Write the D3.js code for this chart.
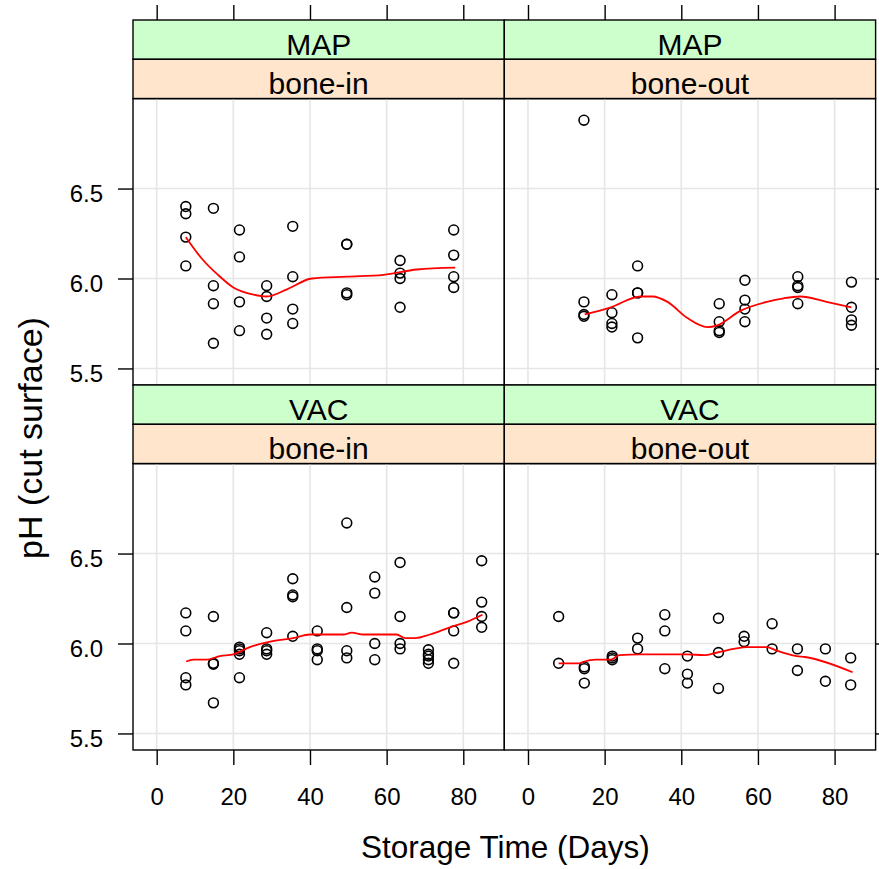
<!DOCTYPE html>
<html>
<head>
<meta charset="utf-8">
<script src="https://cdn.jsdelivr.net/npm/d3@7"></script>
<style>
  html, body { margin: 0; padding: 0; background: #fff; }
  svg { display: block; font-family: "Liberation Sans", Arial, sans-serif; }
</style>
</head>
<body>
<svg id="chart" width="879" height="869"></svg>
<script>
// ---------- data ----------
const packaging = ["MAP", "VAC"];
const cuts = ["bone-in", "bone-out"];
const xTicks = [0, 20, 40, 60, 80];
const yTicks = [5.5, 6.0, 6.5];

// MAP / bone-in
const mapInDays = [7.6,7.6,7.6,7.6, 14.8,14.8,14.8,14.8, 21.6,21.6,21.6,21.6, 28.7,28.7,28.7,28.7,
                   35.5,35.5,35.5,35.5, 49.6,49.6,49.6,49.6, 63.5,63.5,63.5,63.5, 77.5,77.5,77.5,77.5];
const mapInPH   = [6.40,6.36,6.23,6.07, 6.39,5.96,5.86,5.64, 6.27,6.12,5.87,5.71, 5.96,5.90,5.78,5.69,
                   6.29,6.01,5.83,5.75, 6.19,6.19,5.91,5.92, 6.10,6.03,6.00,5.84, 6.27,6.13,6.01,5.95];
const mapInFitDays = [7.6, 11.8, 16, 20, 25.3, 28.7, 34, 40.5, 49.6, 59.2, 67.9, 77.9];
const mapInFitPH   = [6.23, 6.11, 6.02, 5.95, 5.91, 5.90, 5.94, 6.00, 6.01, 6.02, 6.05, 6.06];

// MAP / bone-out
const mapOutDays = [14.6,14.6,14.6,14.6, 21.9,21.9,21.9,21.9, 28.6,28.6,28.6,28.6, 49.9,49.9,49.9,49.9,
                    56.6,56.6,56.6,56.6, 70.4,70.4,70.4,70.4, 84.4,84.4,84.4,84.4];
const mapOutPH   = [6.88,5.87,5.80,5.79, 5.91,5.81,5.75,5.73, 6.07,5.92,5.92,5.67, 5.86,5.76,5.71,5.70,
                    5.99,5.88,5.83,5.76, 6.01,5.96,5.95,5.86, 5.98,5.84,5.77,5.74];
const mapOutFitDays = [14.8, 21.6, 29.4, 32.5, 36.4, 41.6, 46.8, 49.4, 55.4, 62.3, 66.7, 71, 77.9, 84.4];
const mapOutFitPH   = [5.80, 5.84, 5.90, 5.90, 5.87, 5.78, 5.73, 5.74, 5.82, 5.87, 5.89, 5.90, 5.87, 5.84];

// VAC / bone-in
const vacInDays = [7.6,7.6,7.6,7.6, 14.8,14.8,14.8,14.8, 21.6,21.6,21.6,21.6,21.6, 28.7,28.7,28.7,28.7,
                   35.5,35.5,35.5,35.5, 41.9,41.9,41.9,41.9, 49.6,49.6,49.6,49.6, 56.9,56.9,56.9,56.9,
                   63.5,63.5,63.5,63.5, 70.9,70.9,70.9,70.9,70.9, 77.5,77.5,77.5,77.5, 84.8,84.8,84.8,84.8];
const vacInPH   = [6.17,6.07,5.81,5.77, 6.15,5.89,5.885,5.67, 5.98,5.97,5.96,5.94,5.81, 6.06,5.97,5.96,5.94,
                   6.36,6.27,6.26,6.04, 6.07,5.97,5.96,5.91, 6.67,6.20,5.96,5.92, 6.37,6.28,6.00,5.91,
                   6.45,6.15,6.00,5.97, 5.965,5.94,5.93,5.91,5.89, 6.17,6.17,6.07,5.89, 6.46,6.23,6.15,6.09];
const vacInFitDays = [7.7, 9.6, 13, 16.5, 20, 24.3, 29.6, 35.6, 40, 48.7, 50.9, 53.9, 62.6, 64.8, 67.4, 71.3, 76.5, 80.9, 85];
const vacInFitPH   = [5.90, 5.91, 5.91, 5.93, 5.94, 5.98, 6.01, 6.03, 6.05, 6.05, 6.06, 6.05, 6.05, 6.03, 6.03, 6.05, 6.09, 6.12, 6.16];

// VAC / bone-out
const vacOutDays = [8.0,8.0, 14.7,14.7,14.7, 22.0,22.0,22.0, 28.6,28.6, 35.7,35.7,35.7, 41.6,41.6,41.6,
                    49.7,49.7,49.7, 56.4,56.4, 63.7,63.7, 70.3,70.3, 77.6,77.6, 84.2,84.2];
const vacOutPH   = [6.15,5.89, 5.87,5.86,5.78, 5.93,5.92,5.91, 6.03,5.97, 6.16,6.07,5.86, 5.93,5.83,5.78,
                    6.14,5.95,5.75, 6.04,6.01, 6.11,5.97, 5.97,5.85, 5.97,5.79, 5.92,5.77];
const vacOutFitDays = [8, 13.4, 14.7, 17.7, 21.6, 23.8, 29.4, 41.6, 45.9, 49.4, 53.7, 57.1, 62.3, 64.9, 70.1, 72.3, 84.7];
const vacOutFitPH   = [5.89, 5.89, 5.90, 5.91, 5.91, 5.935, 5.94, 5.94, 5.935, 5.95, 5.97, 5.98, 5.98, 5.96, 5.93, 5.925, 5.84];

// ---------- layout ----------
const svg = d3.select("#chart");
const left0 = 133, panelW = 371.3;
const top0 = 20, stripH = 39.3, rowH = 365;
const panelH = rowH - 2 * stripH;

const x = d3.scaleLinear().domain([-6.18, 90.7]).range([0, panelW]);
const y = d3.scaleLinear().domain([5.408, 7.0]).range([panelH, 0]);

const panels = [
  {row: 0, col: 0, pack: packaging[0], cut: cuts[0], xs: mapInDays, ys: mapInPH, fx: mapInFitDays, fy: mapInFitPH},
  {row: 0, col: 1, pack: packaging[0], cut: cuts[1], xs: mapOutDays, ys: mapOutPH, fx: mapOutFitDays, fy: mapOutFitPH},
  {row: 1, col: 0, pack: packaging[1], cut: cuts[0], xs: vacInDays, ys: vacInPH, fx: vacInFitDays, fy: vacInFitPH},
  {row: 1, col: 1, pack: packaging[1], cut: cuts[1], xs: vacOutDays, ys: vacOutPH, fx: vacOutFitDays, fy: vacOutFitPH}
];

const line = d3.line().curve(d3.curveMonotoneX).x(d => x(d[0])).y(d => y(d[1]));

panels.forEach(p => {
  const gx = left0 + p.col * panelW;
  const gy = top0 + p.row * rowH;
  const g = svg.append("g").attr("transform", `translate(${gx},${gy})`);

  // strips
  const strips = [{label: p.pack, fill: "#CCFFCC"}, {label: p.cut, fill: "#FFE5CC"}];
  strips.forEach((s, i) => {
    g.append("rect").attr("x", 0).attr("y", i * stripH).attr("width", panelW).attr("height", stripH)
      .attr("fill", s.fill).attr("stroke", "#000").attr("stroke-width", 1.4);
    g.append("text").attr("x", panelW / 2).attr("y", (i + 1) * stripH - 4.5)
      .attr("text-anchor", "middle").attr("font-size", 30).attr("fill", "#000").text(s.label);
  });

  const pg = g.append("g").attr("transform", `translate(0,${2 * stripH})`);
  // grid
  pg.selectAll("line.gx").data(xTicks).join("line")
    .attr("x1", d => x(d)).attr("x2", d => x(d)).attr("y1", 0).attr("y2", panelH)
    .attr("stroke", "#E6E6E6").attr("stroke-width", 1.6);
  pg.selectAll("line.gy").data(yTicks).join("line")
    .attr("x1", 0).attr("x2", panelW).attr("y1", d => y(d)).attr("y2", d => y(d))
    .attr("stroke", "#E6E6E6").attr("stroke-width", 1.6);

  // points
  const pts = p.xs.map((d, i) => [d, p.ys[i]]);
  pg.selectAll("circle").data(pts).join("circle")
    .attr("cx", d => x(d[0])).attr("cy", d => y(d[1])).attr("r", 4.9)
    .attr("fill", "none").attr("stroke", "#000").attr("stroke-width", 1.6);

  // smoother
  const fit = p.fx.map((d, i) => [d, p.fy[i]]);
  pg.append("path").datum(fit).attr("d", line)
    .attr("fill", "none").attr("stroke", "#FF0000").attr("stroke-width", 1.8);

  // border
  pg.append("rect").attr("width", panelW).attr("height", panelH)
    .attr("fill", "none").attr("stroke", "#000").attr("stroke-width", 1.4);

  // axes
  if (p.col === 0) {
    const ax = pg.append("g").call(d3.axisLeft(y).tickValues(yTicks).tickSize(15).tickPadding(15)
      .tickFormat(d3.format(".1f")));
    ax.select(".domain").remove();
    ax.selectAll("text").attr("font-size", 24).attr("font-family", "Liberation Sans, Arial, sans-serif").attr("dy", "0.55em");
    ax.selectAll("line").attr("stroke-width", 1.4);
  } else {
    const ax = pg.append("g").attr("transform", `translate(${panelW},0)`)
      .call(d3.axisRight(y).tickValues(yTicks).tickSize(15).tickFormat(""));
    ax.select(".domain").remove();
    ax.selectAll("line").attr("stroke-width", 1.4);
  }
  if (p.row === 0) {
    const ax = g.append("g").call(d3.axisTop(x).tickValues(xTicks).tickSize(15).tickFormat(""));
    ax.select(".domain").remove();
    ax.selectAll("line").attr("stroke-width", 1.4);
  } else {
    const ax = pg.append("g").attr("transform", `translate(0,${panelH})`)
      .call(d3.axisBottom(x).tickValues(xTicks).tickSize(15).tickPadding(23).tickFormat(d3.format("d")));
    ax.select(".domain").remove();
    ax.selectAll("text").attr("font-size", 24).attr("font-family", "Liberation Sans, Arial, sans-serif");
    ax.selectAll("line").attr("stroke-width", 1.4);
  }
});

// axis titles
svg.append("text").attr("x", left0 + panelW + 1).attr("y", 858)
  .attr("text-anchor", "middle").attr("font-size", 31.5).text("Storage Time (Days)");
svg.append("text").attr("transform", "translate(42,438) rotate(-90)")
  .attr("text-anchor", "middle").attr("font-size", 34).text("pH (cut surface)");
</script>
</body>
</html>
